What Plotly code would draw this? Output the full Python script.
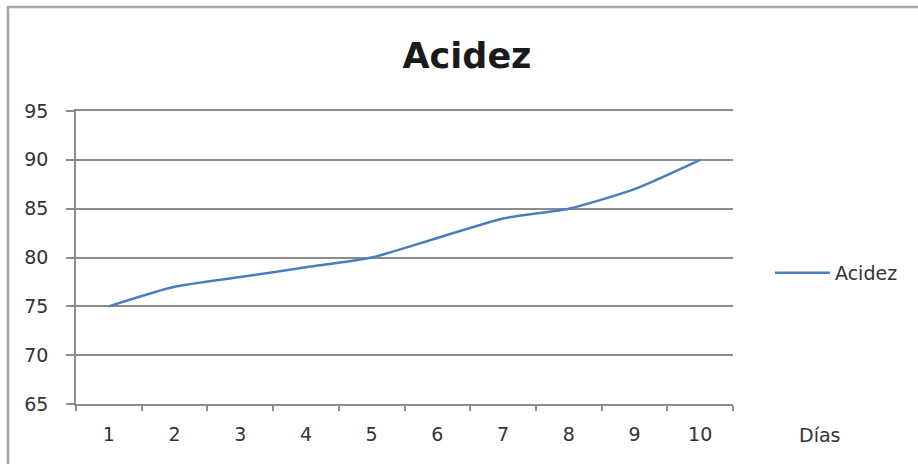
import plotly.graph_objects as go

# Daily acidity readings
dias = ["1", "2", "3", "4", "5", "6", "7", "8", "9", "10"]
acidez = [75, 77, 78, 79, 80, 82, 84, 85, 87, 90]
y_ticks = [65, 70, 75, 80, 85, 90, 95]

W, H = 918, 464
L, R, T, B = 76, 185, 111, 60

FONT = "DejaVu Sans"
TXT = "#333333"
GRID = "#8c8c8c"

fig = go.Figure()
fig.add_trace(go.Scatter(
    x=dias, y=acidez, mode="lines", name="Acidez",
    line=dict(color="#4a7ebb", width=2.5, shape="spline", smoothing=0.6),
))

plot_w = W - L - R
plot_h = H - T - B

fig.update_layout(
    width=W, height=H,
    margin=dict(l=L, r=R, t=T, b=B, pad=0),
    paper_bgcolor="white", plot_bgcolor="white",
    font=dict(family=FONT, color=TXT, size=19),
    title=dict(text="<b>Acidez</b>", x=(467) / W, xanchor="center",
               y=1 - 56 / H, yanchor="middle",
               font=dict(family=FONT, size=35, color="#1a1a1a")),
    showlegend=True,
    legend=dict(x=(770 - L) / plot_w, xanchor="left",
                y=1 - (273 - T) / plot_h, yanchor="middle",
                bgcolor="rgba(0,0,0,0)", itemwidth=55,
                font=dict(family=FONT, size=19, color=TXT)),
    # mirrored x line doubles as the top (95) gridline
    xaxis=dict(type="category", range=[-0.5, 9.5], showgrid=False,
               showline=True, mirror=True, linecolor=GRID, linewidth=1.5,
               ticks="outside", tickson="boundaries", ticklen=5,
               tickcolor=GRID, tickwidth=1.5, ticklabelstandoff=12,
               tickfont=dict(family=FONT, size=19, color=TXT)),
    yaxis=dict(range=[65, 95], tickvals=y_ticks, showgrid=True,
               gridcolor=GRID, gridwidth=1.5, zeroline=False,
               showline=True, linecolor=GRID, linewidth=1.5,
               ticks="outside", ticklen=8, tickcolor=GRID, tickwidth=1.5,
               ticklabelstandoff=14,
               tickfont=dict(family=FONT, size=19, color=TXT)),
    annotations=[dict(text="Días", xref="paper", yref="paper",
                      x=(819 - L) / plot_w, y=-(435 - (H - B)) / plot_h,
                      xanchor="center", yanchor="middle", showarrow=False,
                      font=dict(family=FONT, size=19, color=TXT))],
    shapes=[dict(type="rect", xref="paper", yref="paper",
                 x0=(8 - L) / plot_w, x1=(W + 20 - L) / plot_w,
                 y0=-(H + 20 - (H - B)) / plot_h, y1=1 + (T - 7) / plot_h,
                 line=dict(color="#a6a6a6", width=2.5), layer="below")],
)

fig.write_html("out.html")
